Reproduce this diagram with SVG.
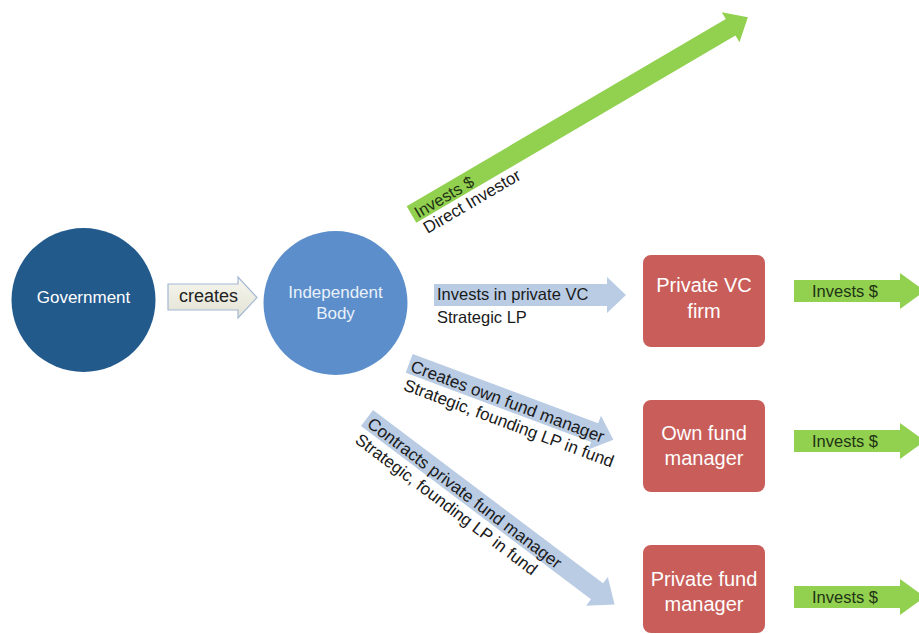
<svg xmlns="http://www.w3.org/2000/svg" width="919" height="634" viewBox="0 0 919 634">
<defs>
<linearGradient id="cr" x1="0" y1="0" x2="0" y2="1">
<stop offset="0" stop-color="#f6f6ef"/>
<stop offset="1" stop-color="#e2e2d4"/>
</linearGradient>
</defs>
<style>
text{font-family:"Liberation Sans",Arial,sans-serif}
.lbl{font-size:16.5px;fill:#1a1a1a}
.dlbl{font-size:17px;fill:#1a1a1a}
.glbl{font-size:16.5px;fill:#1f3314}
.node{font-size:20px;fill:#ffffff;text-anchor:middle}
.circ{font-size:17px;text-anchor:middle}
.green{fill:#92d050}
.blue{fill:#b9cce4}
.box{fill:#c95d59}
</style>
<rect width="919" height="634" fill="#ffffff"/>
<g id="connectors">
<g id="c-creates">
<path d="M168,284 L238,284 L238,277 L257,297.5 L238,318 L238,310 L168,310 Z" fill="url(#cr)" stroke="#a4b8d4" stroke-width="1.2"/>
<text x="179" y="302" style="font-size:18px;fill:#222">creates</text>
</g>
<g id="c-direct" transform="translate(411.5,214.5) rotate(-30.4)">
<path class="green" d="M0,-9.5 L370,-9.5 L370,-17.5 L390,0 L370,17.5 L370,9.5 L0,9.5 Z"/>
<text class="glbl" x="4" y="7">Invests $</text>
<text class="dlbl" x="4" y="25">Direct Investor</text>
</g>
<g id="c-vc">
<path class="blue" d="M434,284 L607,284 L607,277 L626,295 L607,313 L607,306 L434,306 Z"/>
<text class="lbl" x="437" y="300">Invests in private VC</text>
<text class="lbl" x="437" y="323">Strategic LP</text>
</g>
<g id="c-own" transform="translate(409.2,363.3) rotate(20.5)">
<path class="blue" d="M0,-10 L198,-10 L198,-18 L218,0 L198,18 L198,10 L0,10 Z"/>
<text class="dlbl" x="3" y="7">Creates own fund manager</text>
<text class="dlbl" x="3" y="27">Strategic, founding LP in fund</text>
</g>
<g id="c-contract" transform="translate(367,418) rotate(37)">
<path class="blue" d="M0,-10 L288,-10 L288,-18 L310,0 L288,18 L288,10 L0,10 Z"/>
<text class="dlbl" x="4" y="7">Contracts private fund manager</text>
<text class="dlbl" x="4" y="27">Strategic, founding LP in fund</text>
</g>
<g id="c-out1">
<path class="green" d="M794,280 L900,280 L900,273 L925,291 L900,309 L900,302 L794,302 Z"/>
<text class="glbl" x="812" y="297">Invests $</text>
</g>
<g id="c-out2">
<path class="green" d="M794,430 L900,430 L900,423 L925,441 L900,459 L900,452 L794,452 Z"/>
<text class="glbl" x="812" y="447">Invests $</text>
</g>
<g id="c-out3">
<path class="green" d="M794,586 L900,586 L900,579 L925,597 L900,615 L900,608 L794,608 Z"/>
<text class="glbl" x="812" y="603">Invests $</text>
</g>
</g>
<g id="government">
<circle cx="83.5" cy="300" r="72" fill="#235a8c"/>
<text class="circ" x="83.5" y="303" fill="#ffffff">Government</text>
</g>
<g id="independent-body">
<circle cx="335.5" cy="303" r="72" fill="#5b8ecb"/>
<text class="circ" x="335.5" y="298" fill="#eaf1fa">Independent</text>
<text class="circ" x="335.5" y="319" fill="#eaf1fa">Body</text>
</g>
<g id="private-vc">
<rect class="box" x="643" y="255" width="122" height="92" rx="8"/>
<text class="node" x="704" y="292">Private VC</text>
<text class="node" x="704" y="318">firm</text>
</g>
<g id="own-fund">
<rect class="box" x="643" y="400" width="122" height="92" rx="8"/>
<text class="node" x="704" y="440">Own fund</text>
<text class="node" x="704" y="465">manager</text>
</g>
<g id="private-fund">
<rect class="box" x="643" y="545" width="122" height="88" rx="8"/>
<text class="node" x="704" y="586">Private fund</text>
<text class="node" x="704" y="611">manager</text>
</g>
</svg>
